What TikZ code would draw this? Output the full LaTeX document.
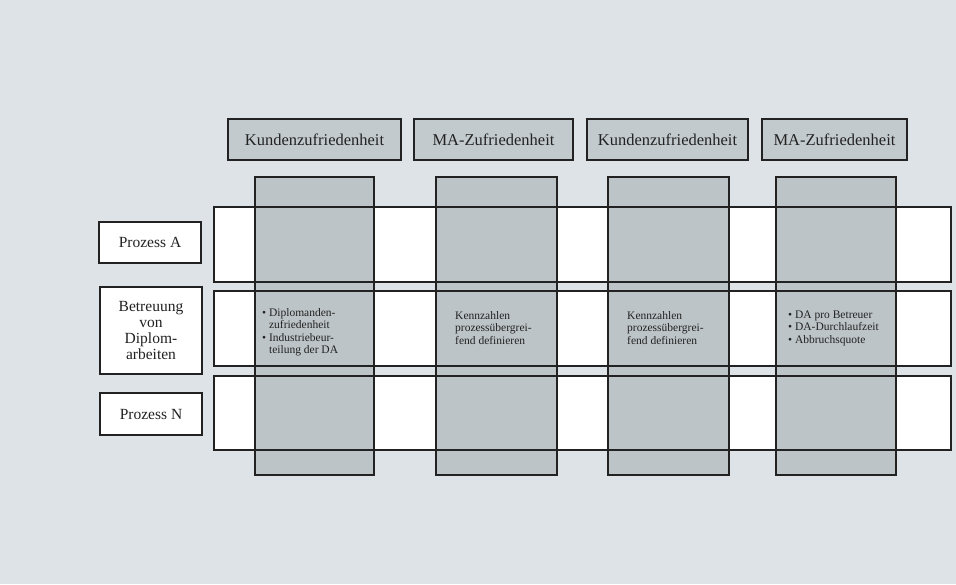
\documentclass[tikz,border=0pt]{standalone}
\usepackage{fontspec}
\setmainfont{Liberation Serif}
\definecolor{bgc}{HTML}{DDE3E6}
\definecolor{colgrey}{HTML}{BDC4C7}
\definecolor{hdrgrey}{HTML}{C3CACD}
\definecolor{ink}{HTML}{222222}
\begin{document}
\begin{tikzpicture}[x=1pt,y=-1pt,
  box/.style={draw=ink,line width=1.3pt},
  hdr/.style={box,fill=hdrgrey},
  colbox/.style={box,fill=colgrey},
  rowbox/.style={box,fill=white},
  lbl/.style={box,fill=white,align=center,font=\fontsize{15.5}{16}\selectfont,text=ink},
  hdrtxt/.style={font=\fontsize{16.5}{18}\selectfont,text=ink},
  celltxt/.style={align=left,anchor=west,font=\fontsize{11.5}{12.5}\selectfont,text=ink,inner sep=0pt}
]
\fill[bgc] (0,0) rectangle (956,584);
\useasboundingbox (0,0) rectangle (956,584);
% rows (white)
\draw[rowbox] (214,207) rectangle (951,282);
\draw[rowbox] (214,291) rectangle (951,366);
\draw[rowbox] (214,376) rectangle (951,450);
% columns
\draw[colbox] (255,177) rectangle (374,475);
\draw[colbox] (436,177) rectangle (557,475);
\draw[colbox] (608,177) rectangle (729,475);
\draw[colbox] (776,177) rectangle (896,475);
% row outlines over columns
\draw[box] (214,207) rectangle (951,282);
\draw[box] (214,291) rectangle (951,366);
\draw[box] (214,376) rectangle (951,450);
% headers
\draw[hdr] (228,119) rectangle (401,160);
\draw[hdr] (414,119) rectangle (573,160);
\draw[hdr] (587,119) rectangle (748,160);
\draw[hdr] (762,119) rectangle (907,160);
\node[hdrtxt] (h1) at (314.5,139.5) {Kundenzufriedenheit};
\node[hdrtxt] (h2) at (493.5,139.5) {MA-Zufriedenheit};
\node[hdrtxt] (h3) at (667.5,139.5) {Kundenzufriedenheit};
\node[hdrtxt] (h4) at (834.5,139.5) {MA-Zufriedenheit};
% process labels
\node[lbl,minimum width=102pt,minimum height=41pt] (pa) at (150,242.5) {Prozess A};
\node[lbl,minimum width=102pt,minimum height=87pt] (pb) at (151,330.5) {Betreuung\\von\\Diplom-\\arbeiten};
\node[lbl,minimum width=102pt,minimum height=42pt] (pn) at (151,414) {Prozess N};
% cell texts
\node[celltxt] (c1) at (262,332) {\textbullet\ Diplomanden-\\\phantom{\textbullet\ }zufriedenheit\\\textbullet\ Industriebeur-\\\phantom{\textbullet\ }teilung der DA};
\node[celltxt] (c2) at (455,328) {Kennzahlen\\prozessübergrei-\\fend definieren};
\node[celltxt] (c3) at (627,328) {Kennzahlen\\prozessübergrei-\\fend definieren};
\node[celltxt] (c4) at (788,328) {\textbullet\ DA pro Betreuer\\\textbullet\ DA-Durchlaufzeit\\\textbullet\ Abbruchsquote};
\end{tikzpicture}
\end{document}
